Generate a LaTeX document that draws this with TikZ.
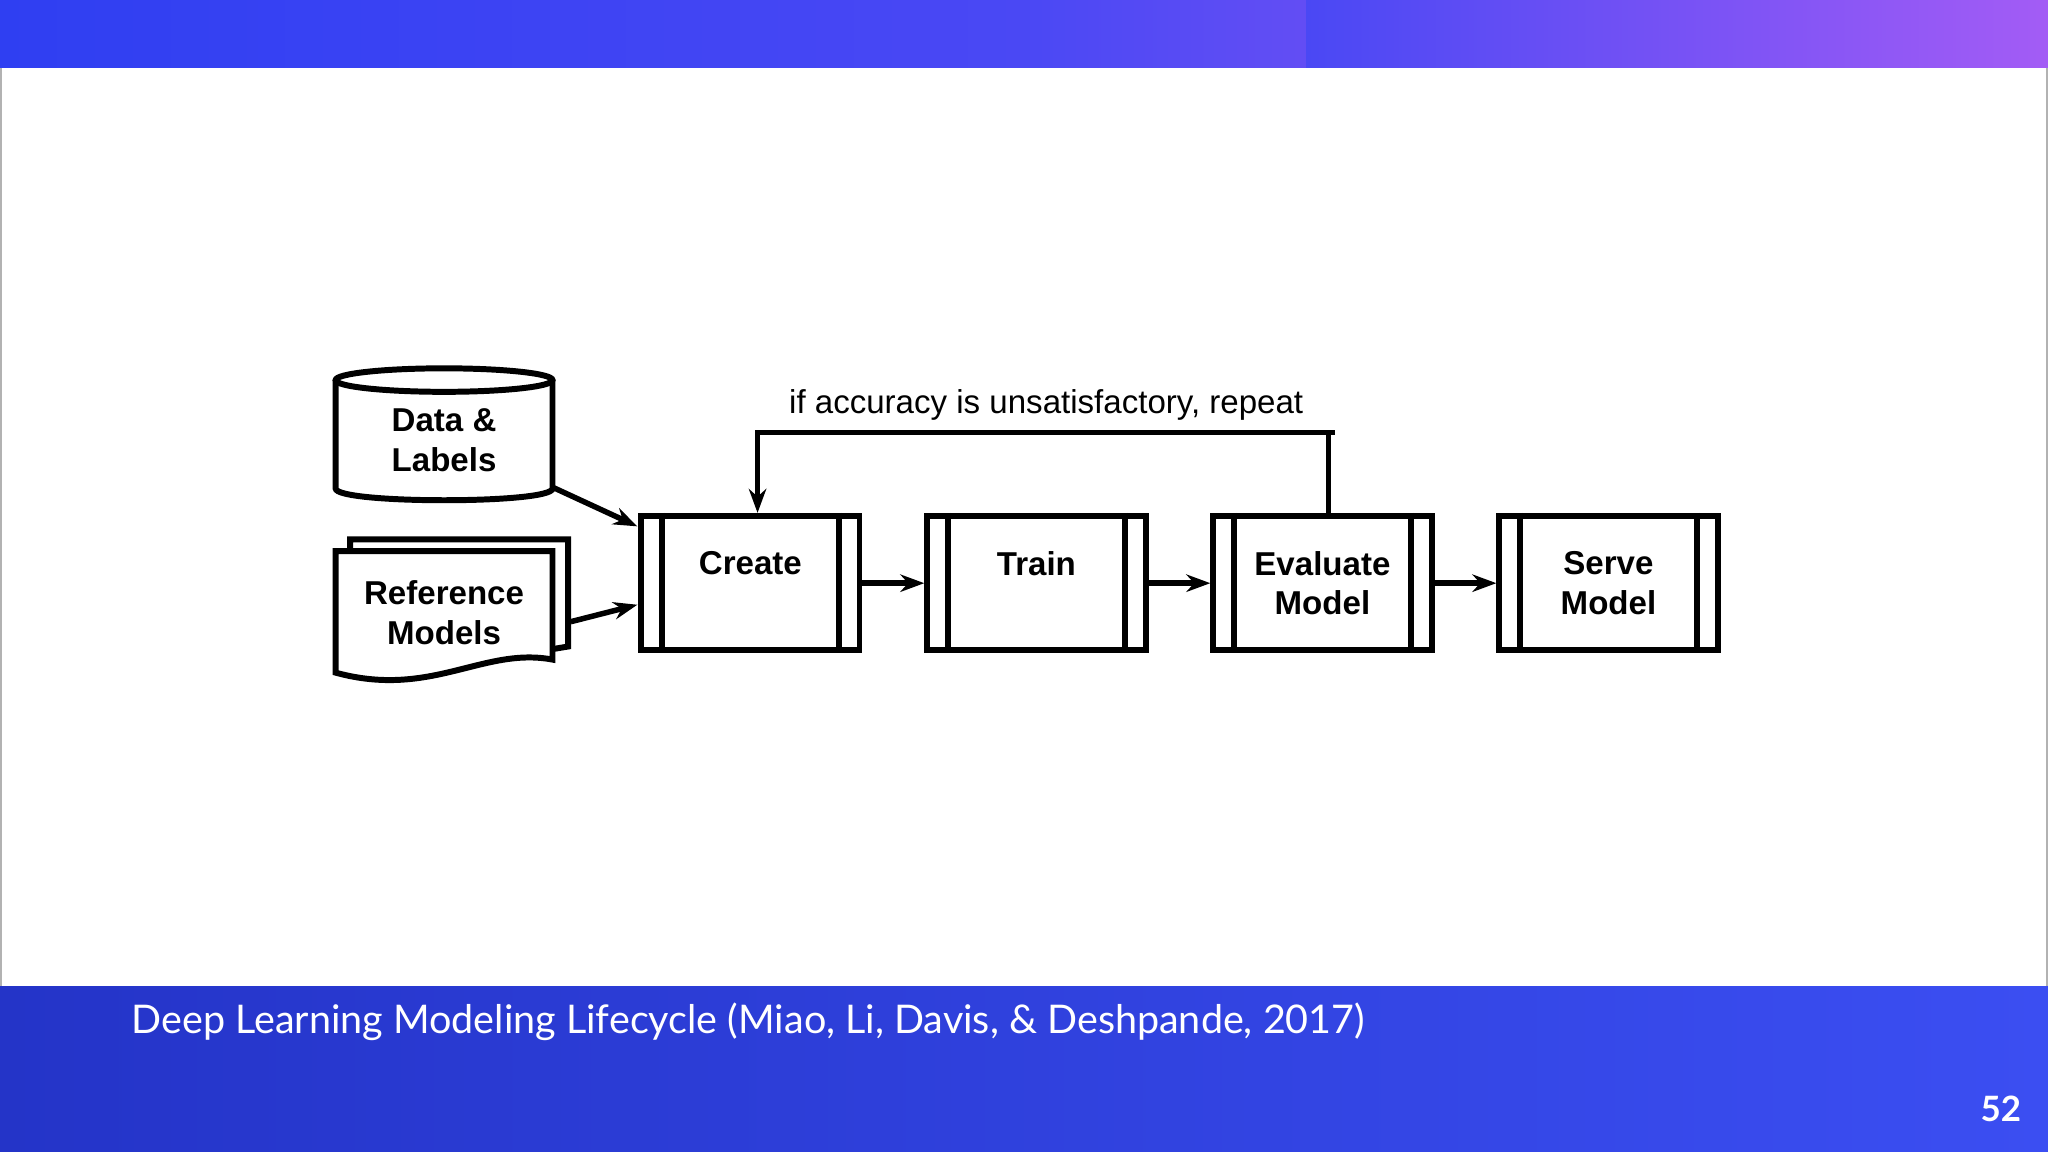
\documentclass[tikz,border=0pt]{standalone}
\usepackage{fontspec}
\setmainfont{Liberation Sans}
\newfontfamily\capfont{Lato}
\usetikzlibrary{arrows.meta}
\definecolor{topA}{HTML}{2F3FF2}
\definecolor{topB}{HTML}{4A48F4}
\definecolor{topC}{HTML}{A35CF5}
\definecolor{botA}{HTML}{2434C8}
\definecolor{botB}{HTML}{3B4EF2}
\tikzset{
  proc/.style={draw,line width=1.3pt,minimum width=1.67cm,minimum height=1.03cm,align=center,font=\bfseries\fontsize{7.2}{8.6}\selectfont,inner sep=0pt},
  conn/.style={line width=1.2pt,-{Stealth[length=5.5mm/3,width=4mm/3]}},
  shp/.style={draw,line width=1.3pt,fill=white},
  lbl/.style={align=center,font=\bfseries\fontsize{7.2}{8.6}\selectfont}
}
\begin{document}
\begin{tikzpicture}[x=0.01cm,y=-0.01cm]
\useasboundingbox (0,0) rectangle (1568,882);
\fill[white] (0,0) rectangle (1568,882);
\shade[left color=topA,right color=topC,middle color=topB] (0,0) rectangle (1568,52);
\shade[left color=topB,right color=topC] (1000,0) rectangle (1568,52);
\shade[left color=botA,right color=botB] (0,755) rectangle (1568,882);
\draw[gray!60,line width=0.4pt] (0.5,52) -- (0.5,755) (1567.5,52)--(1567.5,755);
\node[anchor=west,text=white,font=\capfont\fontsize{8.6}{10}\selectfont,inner sep=0pt] (cap) at (100,782) {Deep Learning Modeling Lifecycle (Miao, Li, Davis, \& Deshpande, 2017)};
\node[text=white,font=\capfont\bfseries\fontsize{7.6}{9}\selectfont,inner sep=0pt] (pg) at (1532,849) {52};
% cylinder
\draw[shp] (257,291) -- (257,374) .. controls (257,386) and (423,386) .. (423,374) -- (423,291);
\draw[shp] (340,291) ellipse [x radius=83, y radius=9];
\node[lbl] (data) at (340,337) {Data \&\\Labels};
\coordinate (dataout) at (423,373);
% document
\draw[shp] (268,422) -- (268,413) -- (435,413) -- (435,495) -- (423,497);
\draw[shp] (257,422) -- (423,422) -- (423,505) .. controls (370,495) and (330,535) .. (257,515) -- cycle;
\node[lbl] (ref) at (340,469) {Reference\\Models};
\coordinate (refout) at (437,476);
% boxes
\foreach \n/\x/\t in {c/574.5/Create\\/Update\\Model, t/793.5/Train\\/Test\\Model, e/1012.5/Evaluate\\Model, s/1231.5/Serve\\Model}{
  \node[proc] (\n) at (\x,446.5) {\t};
  \draw[line width=1.3pt] ([xshift=0.18cm]\n.north west) -- ([xshift=0.18cm]\n.south west)
     ([xshift=-0.18cm]\n.north east) -- ([xshift=-0.18cm]\n.south east);
}
\draw[conn] (dataout) -- (488,403);
\draw[conn] (refout) -- (488,463);
\draw[conn] (c) -- (t);
\draw[conn] (t) -- (e);
\draw[conn] (e) -- (s);
\coordinate (fb) at (1017,331);
\draw[conn] (e.north -| fb) -- (fb) -- (580,331) -- (c.north -| 580,0);
\draw[line width=1.2pt] (fb) -- (1022,331);
\node[font=\fontsize{7.2}{8.6}\selectfont] (rep) at (801,310) {if accuracy is unsatisfactory, repeat};
\end{tikzpicture}
\end{document}
